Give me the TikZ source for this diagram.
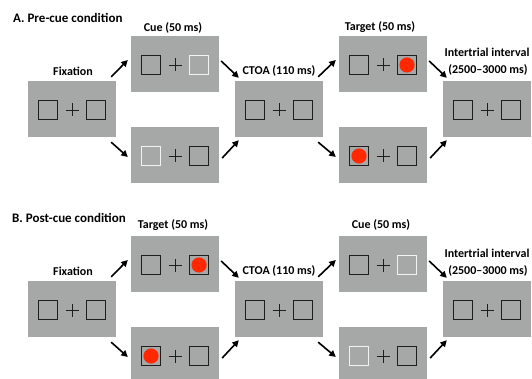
\documentclass[tikz,border=0pt]{standalone}
\usepackage{fontspec}
\setmainfont{Carlito}
\usetikzlibrary{arrows.meta,calc}
\definecolor{scr}{RGB}{166,168,167}
\definecolor{sqc}{RGB}{30,30,30}
\definecolor{wsq}{RGB}{242,242,242}
\definecolor{dotc}{RGB}{255,40,0}
\tikzset{
  screen/.style={fill=scr, draw=none, minimum width=88pt, minimum height=56pt, inner sep=0pt},
  lab/.style={font=\bfseries\fontsize{12}{14}\selectfont, inner sep=0pt},
  ttl/.style={font=\bfseries\fontsize{13}{15}\selectfont, inner sep=0pt, anchor=west},
  arr/.style={line width=1.6pt, -{Triangle[length=6.5pt,width=6.5pt]}},
  pics/sq/.style={code={\draw[sqc, line width=1.2pt, fill=scr] (-9.5,-9.5) rectangle (9.5,9.5);}},
  pics/wsq/.style={code={\draw[wsq, line width=1.2pt, fill=scr] (-9.5,-9.5) rectangle (9.5,9.5);}},
  pics/rsq/.style={code={\draw[sqc, line width=1.2pt, fill=scr] (-9.5,-9.5) rectangle (9.5,9.5);
                         \fill[dotc] (0,0) circle (7.6);}},
  pics/plus/.style={code={\draw[sqc, line width=0.9pt] (-6.5,0) -- (6.5,0) (0,-6.5) -- (0,6.5);}}
}
\newcommand\scrcontent[3]{%
  \path ($(#1.center)+(-24,1)$) pic{#2} ($(#1.center)+(0,1)$) pic{plus} ($(#1.center)+(24,1)$) pic{#3};}
\begin{document}
\begin{tikzpicture}[x=1pt,y=-1pt]
\useasboundingbox (0,0) rectangle (532,379);
% ---------- Panel A ----------
\node[ttl] (ttlA) at (13,18) {A. Pre-cue condition};
\node[screen] (fixA)  at (72,109)  {};
\node[screen] (cueTA) at (175,64) {};
\node[screen] (cueBA) at (175,155) {};
\node[screen] (ctoaA) at (279,109) {};
\node[screen] (tgtTA) at (383,64) {};
\node[screen] (tgtBA) at (383,155) {};
\node[screen] (itiA)  at (487,109) {};
\scrcontent{fixA}{sq}{sq}
\scrcontent{cueTA}{sq}{wsq}
\scrcontent{cueBA}{wsq}{sq}
\scrcontent{ctoaA}{sq}{sq}
\scrcontent{tgtTA}{sq}{rsq}
\scrcontent{tgtBA}{rsq}{sq}
\scrcontent{itiA}{sq}{sq}
\node[lab] (lfixA)  at (73,71)  {Fixation};
\node[lab] (lcueA)  at (173,28) {Cue (50 ms)};
\node[lab] (lctoaA) at (279,71) {CTOA (110 ms)};
\node[lab] (ltgtA)  at (380,27) {Target (50 ms)};
\node[lab] (litiA)  at (487,52) {Intertrial interval};
\node[lab] (litiA2) at (488,70) {(2500–3000 ms)};
\draw[arr] ($(fixA.north east)+(-5,-4)$) -- ($(cueTA.west)+(-3,-4)$);
\draw[arr] ($(fixA.south east)+(-5,5)$) -- ($(cueBA.west)+(-3,2)$);
\draw[arr] ($(cueTA.east)+(2,-3)$) -- ($(ctoaA.north west)+(4,-3)$);
\draw[arr] ($(cueBA.east)+(3,3)$) -- ($(ctoaA.south west)+(4,3)$);
\draw[arr] ($(ctoaA.north east)+(-5,-4)$) -- ($(tgtTA.west)+(-3,-4)$);
\draw[arr] ($(ctoaA.south east)+(-5,5)$) -- ($(tgtBA.west)+(-3,2)$);
\draw[arr] ($(tgtTA.east)+(2,-3)$) -- ($(itiA.north west)+(4,-3)$);
\draw[arr] ($(tgtBA.east)+(3,3)$) -- ($(itiA.south west)+(4,3)$);
% ---------- Panel B ----------
\node[ttl] (ttlB) at (12,218) {B. Post-cue condition};
\node[screen] (fixB)  at (72,309)  {};
\node[screen] (tgtTB) at (175,264) {};
\node[screen] (tgtBB) at (175,355) {};
\node[screen] (ctoaB) at (279,309) {};
\node[screen] (cueTB) at (383,264) {};
\node[screen] (cueBB) at (383,355) {};
\node[screen] (itiB)  at (487,309) {};
\scrcontent{fixB}{sq}{sq}
\scrcontent{tgtTB}{sq}{rsq}
\scrcontent{tgtBB}{rsq}{sq}
\scrcontent{ctoaB}{sq}{sq}
\scrcontent{cueTB}{sq}{wsq}
\scrcontent{cueBB}{wsq}{sq}
\scrcontent{itiB}{sq}{sq}
\node[lab] (lfixB)  at (73,271)  {Fixation};
\node[lab] (ltgtB)  at (173,225) {Target (50 ms)};
\node[lab] (lctoaB) at (279,271) {CTOA (110 ms)};
\node[lab] (lcueB)  at (381,225) {Cue (50 ms)};
\node[lab] (litiB)  at (487,253) {Intertrial interval};
\node[lab] (litiB2) at (488,271) {(2500–3000 ms)};
\draw[arr] ($(fixB.north east)+(-5,-4)$) -- ($(tgtTB.west)+(-3,-4)$);
\draw[arr] ($(fixB.south east)+(-5,5)$) -- ($(tgtBB.west)+(-3,2)$);
\draw[arr] ($(tgtTB.east)+(2,-3)$) -- ($(ctoaB.north west)+(4,-3)$);
\draw[arr] ($(tgtBB.east)+(3,3)$) -- ($(ctoaB.south west)+(4,3)$);
\draw[arr] ($(ctoaB.north east)+(-5,-4)$) -- ($(cueTB.west)+(-3,-4)$);
\draw[arr] ($(ctoaB.south east)+(-5,5)$) -- ($(cueBB.west)+(-3,2)$);
\draw[arr] ($(cueTB.east)+(2,-3)$) -- ($(itiB.north west)+(4,-3)$);
\draw[arr] ($(cueBB.east)+(3,3)$) -- ($(itiB.south west)+(4,3)$);
\end{tikzpicture}
\end{document}
